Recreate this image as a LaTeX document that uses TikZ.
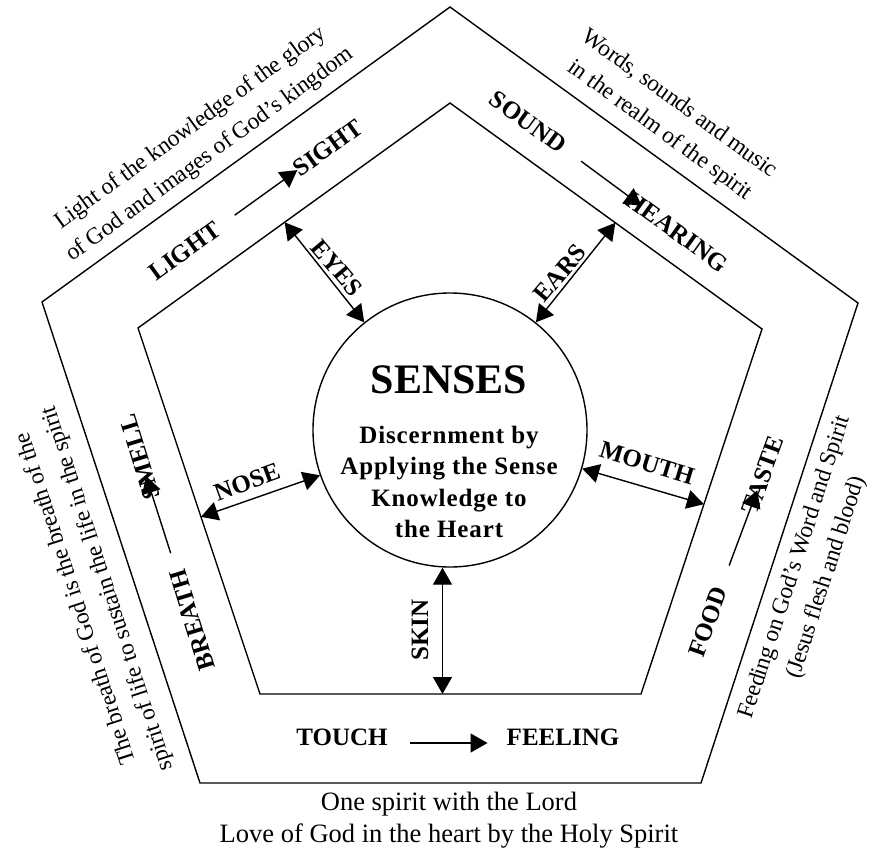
\documentclass[tikz,border=0pt]{standalone}
\usepackage{fontspec}
\setmainfont{Liberation Serif}
\newfontfamily\spacedserif[LetterSpace=3.5]{Liberation Serif}
\newfontfamily\tightserif[LetterSpace=-1]{Liberation Serif}
\usetikzlibrary{arrows.meta,calc}
\begin{document}
\begin{tikzpicture}[x=1pt,y=-1pt,
  penta/.style={line width=1.4pt, line join=miter},
  lab/.style={font=\fontsize{25}{30}\selectfont\bfseries, inner sep=0pt},
  note/.style={font=\tightserif\fontsize{23.5}{33}\selectfont, align=center, inner sep=0pt},
  onearrow/.style={-{Triangle[length=17pt,width=19pt]}, line width=1.4pt},
  twoarrow/.style={{Triangle[length=17pt,width=19pt]}-{Triangle[length=17pt,width=19pt]}, line width=1.4pt}
]
\useasboundingbox (0,0) rectangle (878,852);
% outer pentagon
\coordinate (O1) at (450,7);
\coordinate (O2) at (858,303);
\coordinate (O3) at (701,783);
\coordinate (O4) at (200,783);
\coordinate (O5) at (42,302);
\draw[penta] (O1) -- (O2) -- (O3) -- (O4) -- (O5) -- cycle;
% inner pentagon
\coordinate (I1) at (450,103);
\coordinate (I2) at (762,329);
\coordinate (I3) at (641,694);
\coordinate (I4) at (260,694);
\coordinate (I5) at (138,328);
\draw[penta] (I1) -- (I2) -- (I3) -- (I4) -- (I5) -- cycle;
% centre circle
\node[circle, draw, line width=1.4pt, minimum size=274pt, inner sep=0pt] (senses) at (450,430) {};
\node[font=\fontsize{42}{50}\selectfont\bfseries, inner sep=0pt, anchor=base] (title) at (449,393) {SENSES};
\node[font=\spacedserif\fontsize{25}{31.5}\selectfont\bfseries, align=center, inner sep=0pt] (disc) at (449,482) {Discernment by\\Applying the Sense\\Knowledge to\\the Heart};
% labels
\node[lab, rotate=36] (light) at (185,251) {LIGHT};
\node[lab, rotate=36] (sight) at (328,148) {SIGHT};
\node[lab, rotate=-36] (sound) at (528,122) {SOUND};
\node[lab, rotate=-36] (hearing) at (677,232) {HEARING};
\node[lab, rotate=107] (breath) at (192,620) {BREATH};
\node[lab, rotate=107] (smell) at (140,457) {SMELL};
\node[lab, rotate=70] (food) at (708,622) {FOOD};
\node[lab, rotate=70] (taste) at (763,475) {TASTE};
\node[lab] (touch) at (342,737) {TOUCH};
\node[lab] (feeling) at (563,737) {FEELING};
\node[lab, rotate=-50] (eyes) at (337,268) {EYES};
\node[lab, rotate=50] (ears) at (560,273) {EARS};
\node[lab, rotate=20] (nose) at (247,482) {NOSE};
\node[lab, rotate=-17] (mouth) at (647,463) {MOUTH};
\node[lab, rotate=90] (skin) at (420,630) {SKIN};
% outer arrows
\draw[onearrow, shorten <=20pt, shorten >=-2pt] (light) -- (sight);
\draw[onearrow, shorten <=22pt, shorten >=-16pt] (sound) -- (hearing);
\draw[onearrow, shorten <=18pt, shorten >=-24pt] (breath) -- (smell);
\draw[onearrow, shorten <=24pt, shorten >=-24pt] (food) -- (taste);
\draw[onearrow, shorten <=22pt, shorten >=19pt] ([yshift=-6pt]touch.east) -- ([yshift=-6pt]feeling.west);
% inner double arrows
\coordinate (eyesP) at ($(I1)!0.53!(I5)$);
\coordinate (earsP) at ($(I1)!0.53!(I2)$);
\coordinate (noseP) at ($(I5)!0.516!(I4)$);
\coordinate (mouthP) at ($(I2)!0.48!(I3)$);
\coordinate (skinP) at ($(I4)!0.479!(I3)$);
\draw[twoarrow] (eyesP) -- (senses);
\draw[twoarrow] (earsP) -- (senses);
\draw[twoarrow] (noseP) -- (senses);
\draw[twoarrow] (mouthP) -- (senses);
\draw[twoarrow] (skinP) -- (skinP |- senses.south);
% notes
\node[note, rotate=36] (lightnote) at (200.5,141.5) {Light of the knowledge of the glory\\of God and images of God’s kingdom};
\node[note, rotate=-36] (soundnote) at (669.5,117.5) {Words, sounds and music\\in the realm of the spirit};
\node[note, rotate=108] (breathnote) at (92.5,593.5) {The breath of God is the breath of the\\spirit of life to sustain the life in the spirit};
\node[note, rotate=72] (foodnote) at (811,572.5) {Feeding on God’s Word and Spirit\\(Jesus flesh and blood)};
\node[font=\fontsize{26.5}{32}\selectfont, align=center, inner sep=0pt] (bottomnote) at (449,820) {One spirit with the Lord\\Love of God in the heart by the Holy Spirit};
\end{tikzpicture}
\end{document}
